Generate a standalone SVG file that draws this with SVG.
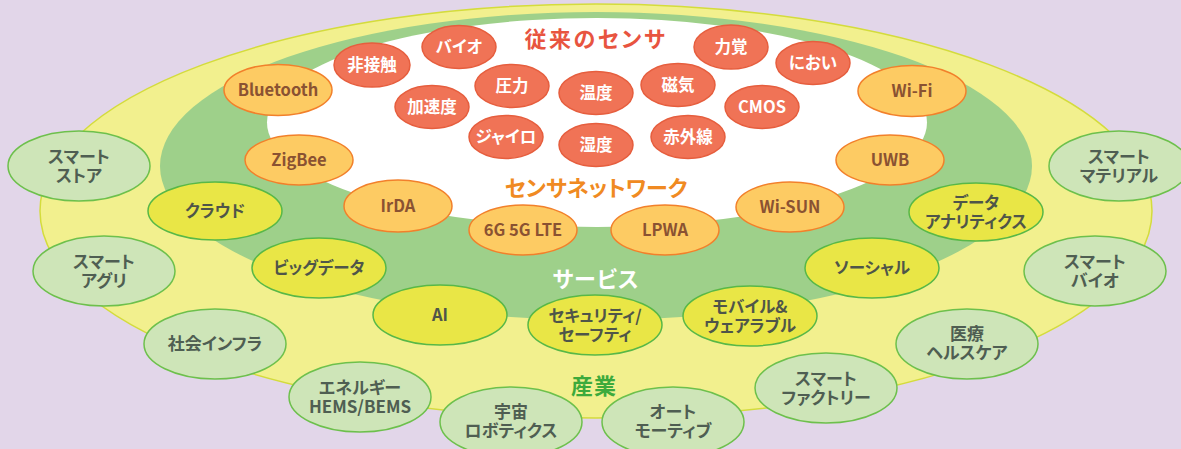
<svg xmlns="http://www.w3.org/2000/svg" width="1181" height="449" viewBox="0 0 1181 449">
<style>
text{font-family:"Noto Sans CJK JP","Noto Sans",sans-serif;font-weight:700;text-anchor:middle;font-feature-settings:"palt";}
.r ellipse{fill:#F07356;stroke:#E65E3E;stroke-width:1.5}
.r text{fill:#FFFFFF;font-size:16.5px}
.o ellipse{fill:#FDCB63;stroke:#F2802B;stroke-width:1.5}
.o text{fill:#8A5232;font-size:16.5px}
.y ellipse{fill:#E9E646;stroke:#58B847;stroke-width:1.5}
.y text{fill:#4F5549;font-size:16.5px}
.g ellipse{fill:#CEE5B8;stroke:#6DC04C;stroke-width:1.5}
.g text{fill:#4F5E52;font-size:17px}
.title{font-size:22px}
</style>
<rect width="1181" height="449" fill="#E2D6E9"/>
<g id="layers">
<ellipse cx="596" cy="211" rx="556" ry="207" fill="#F2F08E" stroke="#D4DC3C" stroke-width="1.5"/>
<ellipse cx="596" cy="166" rx="436" ry="154" fill="#9ED08A"/>
<ellipse cx="597" cy="122.5" rx="330" ry="104.5" fill="#FFFFFF"/>
</g>
<g id="titles">
<text class="title" x="596" y="47" fill="#E85440" letter-spacing="2.5">従来のセンサ</text>
<text class="title" x="596" y="196" fill="#F08A22">センサネットワーク</text>
<text class="title" x="596" y="287" fill="#FFFFFF" letter-spacing="1">サービス</text>
<text class="title" x="594" y="394" fill="#3DAA3C" letter-spacing="1">産業</text>
</g>
<g id="connectors"/>
<g id="sensors" class="r">
<g id="n-hisesshoku"><ellipse cx="372" cy="65" rx="38" ry="22"/><text x="372" y="71">非接触</text></g>
<g id="n-bio"><ellipse cx="459" cy="47" rx="37" ry="21.5"/><text x="459" y="53">バイオ</text></g>
<g id="n-atsuryoku"><ellipse cx="512" cy="86" rx="37" ry="21.5"/><text x="512" y="92">圧力</text></g>
<g id="n-kasokudo"><ellipse cx="432" cy="107" rx="37" ry="21.5"/><text x="432" y="113">加速度</text></g>
<g id="n-ondo"><ellipse cx="596" cy="93" rx="37" ry="21.5"/><text x="596" y="99">温度</text></g>
<g id="n-jiki"><ellipse cx="678" cy="85" rx="37" ry="21.5"/><text x="678" y="91">磁気</text></g>
<g id="n-gyro"><ellipse cx="506" cy="137" rx="37" ry="21.5"/><text x="506" y="143">ジャイロ</text></g>
<g id="n-shitsudo"><ellipse cx="596" cy="145" rx="37" ry="21.5"/><text x="596" y="151">湿度</text></g>
<g id="n-sekigaisen"><ellipse cx="688" cy="137" rx="37" ry="21.5"/><text x="688" y="143">赤外線</text></g>
<g id="n-rikikaku"><ellipse cx="731" cy="47" rx="37" ry="22"/><text x="731" y="53">力覚</text></g>
<g id="n-cmos"><ellipse cx="762" cy="107" rx="37" ry="21.5"/><text x="762" y="113">CMOS</text></g>
<g id="n-nioi"><ellipse cx="813" cy="63" rx="37" ry="21.5"/><text x="813" y="69">におい</text></g>
</g>
<g id="networks" class="o">
<g id="n-bluetooth"><ellipse cx="278" cy="90" rx="54" ry="25.5"/><text x="278" y="96">Bluetooth</text></g>
<g id="n-zigbee"><ellipse cx="299" cy="160" rx="54" ry="25"/><text x="299" y="166">ZigBee</text></g>
<g id="n-irda"><ellipse cx="398" cy="206" rx="54" ry="26"/><text x="398" y="212">IrDA</text></g>
<g id="n-lte"><ellipse cx="523" cy="230" rx="54" ry="25"/><text x="523" y="236">6G 5G LTE</text></g>
<g id="n-lpwa"><ellipse cx="665" cy="230" rx="54" ry="25"/><text x="665" y="236">LPWA</text></g>
<g id="n-wisun"><ellipse cx="790" cy="207" rx="54" ry="25"/><text x="790" y="213">Wi-SUN</text></g>
<g id="n-uwb"><ellipse cx="890" cy="160" rx="54" ry="25"/><text x="890" y="166">UWB</text></g>
<g id="n-wifi"><ellipse cx="912" cy="91" rx="54" ry="25.5"/><text x="912" y="97">Wi-Fi</text></g>
</g>
<g id="services" class="y">
<g id="n-cloud"><ellipse cx="215" cy="211" rx="67" ry="29"/><text x="215" y="217">クラウド</text></g>
<g id="n-analytics"><ellipse cx="976" cy="212" rx="67" ry="29"/><text x="976" y="208.5">データ<tspan x="976" dy="19">アナリティクス</tspan></text></g>
<g id="n-bigdata"><ellipse cx="319" cy="268" rx="67" ry="30"/><text x="319" y="274">ビッグデータ</text></g>
<g id="n-social"><ellipse cx="872" cy="268" rx="67" ry="30"/><text x="872" y="274">ソーシャル</text></g>
<g id="n-ai"><ellipse cx="440" cy="315" rx="67" ry="30"/><text x="440" y="321">AI</text></g>
<g id="n-security"><ellipse cx="595" cy="325" rx="67" ry="30"/><text x="595" y="321.5">セキュリティ/<tspan x="595" dy="19">セーフティ</tspan></text></g>
<g id="n-mobile"><ellipse cx="750" cy="316" rx="67" ry="30"/><text x="750" y="312.5">モバイル&amp;<tspan x="750" dy="19">ウェアラブル</tspan></text></g>
</g>
<g id="industries" class="g">
<g id="n-store"><ellipse cx="79" cy="166" rx="71" ry="35"/><text x="79" y="163">スマート<tspan x="79" dy="19">ストア</tspan></text></g>
<g id="n-agri"><ellipse cx="104" cy="271" rx="71" ry="35"/><text x="104" y="268">スマート<tspan x="104" dy="19">アグリ</tspan></text></g>
<g id="n-infra"><ellipse cx="215" cy="344" rx="71" ry="35"/><text x="215" y="350">社会インフラ</text></g>
<g id="n-energy"><ellipse cx="360" cy="397" rx="71" ry="35"/><text x="360" y="394">エネルギー<tspan x="360" dy="19">HEMS/BEMS</tspan></text></g>
<g id="n-space"><ellipse cx="511" cy="422" rx="71" ry="35"/><text x="511" y="418">宇宙<tspan x="511" dy="19">ロボティクス</tspan></text></g>
<g id="n-auto"><ellipse cx="673" cy="422" rx="71" ry="35"/><text x="673" y="418">オート<tspan x="673" dy="19">モーティブ</tspan></text></g>
<g id="n-factory"><ellipse cx="826" cy="388" rx="71" ry="35"/><text x="826" y="385">スマート<tspan x="826" dy="19">ファクトリー</tspan></text></g>
<g id="n-medical"><ellipse cx="967" cy="344" rx="71" ry="35"/><text x="967" y="340">医療<tspan x="967" dy="19">ヘルスケア</tspan></text></g>
<g id="n-sbio"><ellipse cx="1095" cy="271" rx="71" ry="35"/><text x="1095" y="268">スマート<tspan x="1095" dy="19">バイオ</tspan></text></g>
<g id="n-material"><ellipse cx="1119" cy="166" rx="70" ry="35"/><text x="1119" y="163">スマート<tspan x="1119" dy="19">マテリアル</tspan></text></g>
</g>
</svg>
